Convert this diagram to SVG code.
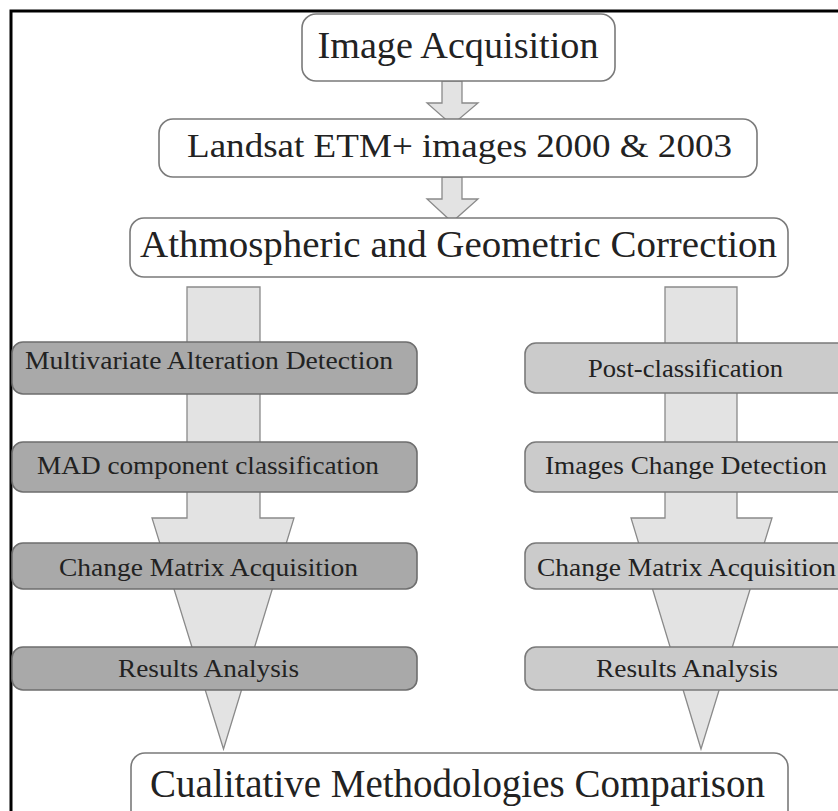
<svg xmlns="http://www.w3.org/2000/svg" width="838" height="811" viewBox="0 0 838 811">
<style>
text{font-family:"Liberation Serif","DejaVu Serif",serif;fill:#222;text-anchor:middle}
.top{fill:#ffffff;stroke:#7a7a7a;stroke-width:1.6}
.dark{fill:#a9a9a9;stroke:#6e6e6e;stroke-width:1.6}
.light{fill:#cbcbcb;stroke:#7a7a7a;stroke-width:1.6}
.arr{fill:#e3e3e3;stroke:#8a8a8a;stroke-width:1.3}
.big{font-size:38px}
.mid{font-size:26px}
</style>
<rect width="838" height="811" fill="#ffffff"/>
<path d="M11,811 V11 H838" fill="none" stroke="#000" stroke-width="3"/>
<g id="connectors">
<polygon class="arr" points="442,81 462,81 462,103 478,103 452,125 427,103 442,103"/>
<polygon class="arr" points="442,177 462,177 462,199 478,199 452,222 427,199 442,199"/>
<polygon class="arr" points="187,287 260,287 260,518 294,518 223.5,749 152,518 187,518"/>
<polygon class="arr" points="665,287 737,287 737,518 772,518 701,749 631,518 665,518"/>
</g>
<g id="n-image-acquisition">
<rect class="top" x="302" y="14" width="313" height="67" rx="14"/>
<text x="458" y="58" class="big" textLength="281" lengthAdjust="spacingAndGlyphs">Image Acquisition</text>
</g>
<g id="n-landsat">
<rect class="top" x="159" y="119" width="598" height="58" rx="14"/>
<text x="459.5" y="157" font-size="33" textLength="545" lengthAdjust="spacingAndGlyphs">Landsat ETM+ images 2000 &amp; 2003</text>
</g>
<g id="n-correction">
<rect class="top" x="130" y="218" width="658" height="59" rx="14"/>
<text x="458.5" y="257" font-size="37" textLength="637" lengthAdjust="spacingAndGlyphs">Athmospheric and Geometric Correction</text>
</g>
<g id="n-mad">
<rect class="dark" x="12" y="342" width="405" height="52" rx="11"/>
<text x="209" y="369" class="mid" textLength="368" lengthAdjust="spacingAndGlyphs">Multivariate Alteration Detection</text>
</g>
<g id="n-mad-class">
<rect class="dark" x="12" y="442" width="405" height="50" rx="11"/>
<text x="208" y="474" class="mid" textLength="342" lengthAdjust="spacingAndGlyphs">MAD component classification</text>
</g>
<g id="n-change-left">
<rect class="dark" x="12" y="543" width="405" height="46" rx="11"/>
<text x="208.5" y="576" class="mid" textLength="299" lengthAdjust="spacingAndGlyphs">Change Matrix Acquisition</text>
</g>
<g id="n-results-left">
<rect class="dark" x="12" y="647" width="405" height="43" rx="11"/>
<text x="208.5" y="677" class="mid" textLength="181" lengthAdjust="spacingAndGlyphs">Results Analysis</text>
</g>
<g id="n-post">
<rect class="light" x="525" y="343" width="340" height="50" rx="11"/>
<text x="685.5" y="377" class="mid" textLength="195" lengthAdjust="spacingAndGlyphs">Post-classification</text>
</g>
<g id="n-images-change">
<rect class="light" x="525" y="442" width="340" height="50" rx="11"/>
<text x="686" y="474" class="mid" textLength="282" lengthAdjust="spacingAndGlyphs">Images Change Detection</text>
</g>
<g id="n-change-right">
<rect class="light" x="525" y="543" width="340" height="46" rx="11"/>
<text x="686.5" y="576" class="mid" textLength="299" lengthAdjust="spacingAndGlyphs">Change Matrix Acquisition</text>
</g>
<g id="n-results-right">
<rect class="light" x="525" y="647" width="340" height="43" rx="11"/>
<text x="687" y="677" class="mid" textLength="182" lengthAdjust="spacingAndGlyphs">Results Analysis</text>
</g>
<g id="n-comparison">
<rect class="top" x="131" y="753" width="657" height="80" rx="14"/>
<text x="457.5" y="797" font-size="40" textLength="615" lengthAdjust="spacingAndGlyphs">Cualitative Methodologies Comparison</text>
</g>
</svg>
